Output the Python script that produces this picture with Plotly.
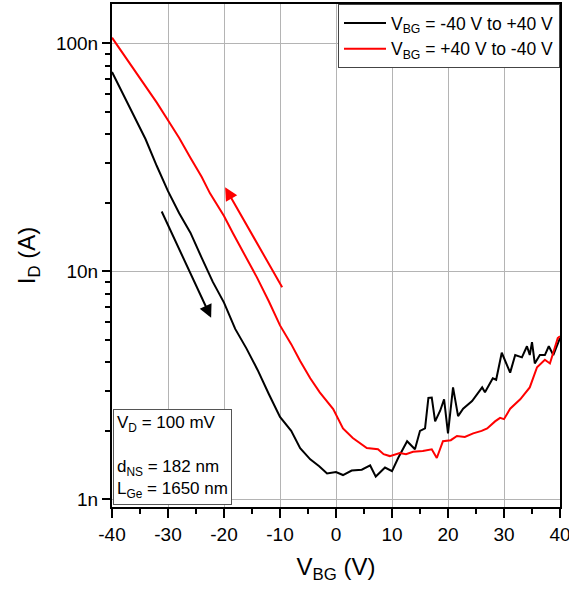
import numpy as np
import plotly.graph_objects as go

# Forward sweep (V_BG = -40 V to +40 V), drain current in nA
vbg_fwd = [-40, -38, -36, -34, -32, -30, -28, -26, -24, -22, -20, -18, -16, -14, -12,
           -10, -8, -6.4, -4.6, -3, -1.6, 0, 1.25, 2.8, 4.6, 6.1, 7.1, 8.75, 10, 11.1,
           12.7, 14.1, 15, 15.9, 16.5, 17.1, 17.7, 18.6, 19.3, 20, 20.9, 21.8, 22.7,
           24.3, 26.1, 26.6, 28, 28.6, 29.6, 31.1, 32, 33.2, 34.1, 34.6, 35, 35.5,
           36.4, 37.3, 38, 38.8, 40]
id_fwd_nA = [75, 60, 48, 38, 29, 22.5, 18, 14.8, 11.5, 9.0, 7.3, 5.6, 4.6, 3.7, 2.9,
             2.3, 2.0, 1.68, 1.5, 1.4, 1.30, 1.32, 1.28, 1.34, 1.35, 1.41, 1.26, 1.38, 1.33, 1.52,
             1.80, 1.66, 2.0, 2.05, 2.79, 2.8, 2.2, 2.45, 2.75, 1.95, 3.1, 2.32, 2.5,
             2.7, 3.1, 2.95, 3.4, 3.35, 4.4, 3.6, 4.3, 4.2, 4.7, 4.3, 4.9, 3.95,
             4.3, 4.3, 4.7, 4.3, 5.1]

# Reverse sweep (V_BG = +40 V to -40 V), drain current in nA
vbg_rev = [-40, -38, -36.2, -34, -32, -30, -28, -26, -24, -22.5, -20, -18.4, -16, -14.1,
           -12, -10, -8, -6.4, -4.6, -2.9, -0.5, 1.25, 3, 5.5, 7.5, 8.5, 9.6, 11.4, 12.5,
           13.75, 15.5, 17.1, 18, 19.1, 20.5, 21.6, 23, 24.5, 26, 27, 28.4, 29.3, 30,
           31.1, 32.9, 34.6, 35.9, 37.3, 38.2, 39.6, 40]
id_rev_nA = [106, 90, 77, 65, 55, 46, 38.5, 31.5, 26, 22, 17.5, 14.7, 11.5, 9.4,
             7.4, 5.8, 4.8, 4.05, 3.4, 2.95, 2.49, 2.05, 1.86, 1.68, 1.66, 1.58, 1.55, 1.6, 1.58,
             1.62, 1.63, 1.66, 1.52, 1.8, 1.82, 1.9, 1.88, 1.95, 2.0, 2.05, 2.2, 2.28, 2.25,
             2.5, 2.75, 3.1, 3.8, 4.1, 3.95, 5.1, 5.2]

# Sweep-direction arrows: (V_BG, I_D in nA) for base and tip
arrow_fwd_base = (-31.25, 18.6)
arrow_fwd_tip = (-22.3, 6.26)
arrow_rev_base = (-9.46, 8.4)
arrow_rev_tip = (-19.8, 23.4)

x_ticks = [-40, -30, -20, -10, 0, 10, 20, 30, 40]
x_ticktext = ["-40", "-30", "-20", "-10", "0", "10", "20", "30", "40"]
y_ticks = [1e-9, 1e-8, 1e-7]
y_ticktext = ["1n", "10n", "100n"]

FONT = "Arial, Liberation Sans, sans-serif"

fig = go.Figure()
fig.add_trace(go.Scatter(
    x=vbg_fwd, y=np.array(id_fwd_nA) * 1e-9, mode="lines",
    line=dict(color="black", width=2),
    name="V<sub>BG</sub> = -40 V to +40 V"))
fig.add_trace(go.Scatter(
    x=vbg_rev, y=np.array(id_rev_nA) * 1e-9, mode="lines",
    line=dict(color="#ff0000", width=2),
    name="V<sub>BG</sub> = +40 V to -40 V"))

for base, tip, col in [(arrow_fwd_base, arrow_fwd_tip, "black"),
                       (arrow_rev_base, arrow_rev_tip, "#ff0000")]:
    fig.add_annotation(
        x=tip[0], y=np.log10(tip[1] * 1e-9),
        ax=base[0], ay=np.log10(base[1] * 1e-9),
        xref="x", yref="y", axref="x", ayref="y",
        showarrow=True, arrowhead=2, arrowsize=1.3, arrowwidth=2,
        arrowcolor=col, text="")

fig.add_annotation(
    xref="paper", yref="paper", x=0.002, y=0.004, xanchor="left", yanchor="bottom",
    text="V<sub>D</sub> = 100 mV<br><br>d<sub>NS</sub> = 182 nm<br>L<sub>Ge</sub> = 1650 nm",
    align="left", showarrow=False, font=dict(family=FONT, size=17, color="black"),
    bordercolor="#555555", borderwidth=1, borderpad=3, bgcolor="white")

minor_y = [m * 10.0 ** e for e in (-9, -8, -7) for m in range(2, 10)]
minor_y = [v for v in minor_y if v < 1.45e-7]

fig.update_layout(
    width=569, height=592,
    margin=dict(l=112, r=9, t=4, b=85, autoexpand=False),
    paper_bgcolor="white", plot_bgcolor="white",
    font=dict(family=FONT, size=19, color="black"),
    showlegend=True,
    legend=dict(x=1, y=1, xanchor="right", yanchor="top",
                bgcolor="white", bordercolor="#444444", borderwidth=1,
                font=dict(family=FONT, size=17.5, color="black"),
                itemwidth=42, tracegroupgap=0),
    xaxis=dict(
        range=[-40, 40], tickvals=x_ticks, ticktext=x_ticktext, ticks="outside",
        ticklen=9, tickwidth=1.5, ticklabeloverflow="allow", automargin=False,
        tickcolor="black", showline=True, linecolor="black", linewidth=2, mirror=True,
        showgrid=True, gridcolor="#b4b4b4", gridwidth=1, zeroline=False,
        tickfont=dict(size=19),
        minor=dict(dtick=5, ticks="outside", ticklen=5, tickwidth=1.5, tickcolor="black",
                   showgrid=False),
        title=dict(text="V<sub>BG</sub> (V)", font=dict(size=24), standoff=14)),
    yaxis=dict(
        type="log", range=[-9.033, -6.827], tickvals=y_ticks, ticktext=y_ticktext,
        ticks="outside", ticklen=8, tickwidth=1.5, tickcolor="black", automargin=False,
        showline=True, linecolor="black", linewidth=2, mirror=True,
        showgrid=True, gridcolor="#b4b4b4", gridwidth=1, zeroline=False,
        tickfont=dict(size=19),
        minor=dict(tickvals=minor_y, ticks="outside", ticklen=5, tickwidth=1.5,
                   tickcolor="black", showgrid=False),
        title=dict(text="I<sub>D</sub> (A)", font=dict(size=24), standoff=14)),
)

fig.write_html("out.html")
